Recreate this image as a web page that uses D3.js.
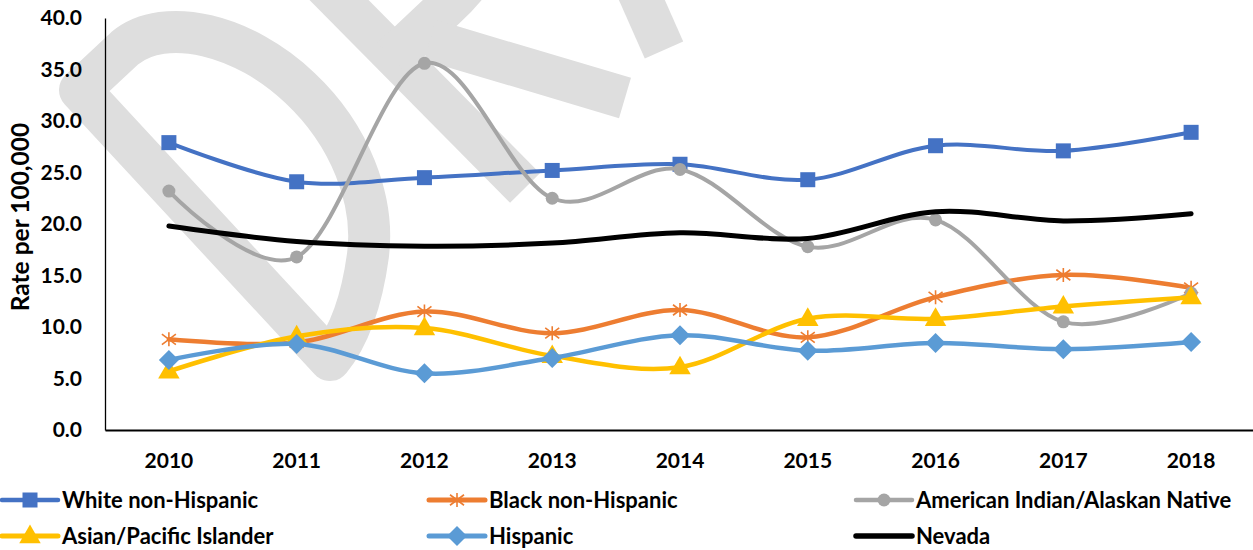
<!DOCTYPE html>
<html>
<head>
<meta charset="utf-8">
<script src="https://cdn.jsdelivr.net/npm/d3@7"></script>
<style>
  html, body { margin: 0; padding: 0; background: #ffffff; }
  svg { display: block; }
  text { font-family: Lato, "Open Sans", sans-serif; font-weight: 700; fill: #000; }
</style>
</head>
<body>
<svg id="chart" width="1253" height="550"></svg>
<script>
// Drug overdose death rate per 100,000 by race/ethnicity, Nevada, 2010-2018
const years = [2010, 2011, 2012, 2013, 2014, 2015, 2016, 2017, 2018];
const whiteNonHispanic = [27.9, 24.1, 24.5, 25.2, 25.8, 24.3, 27.6, 27.1, 28.9];
const blackNonHispanic = [8.8, 8.5, 11.5, 9.4, 11.65, 9.0, 12.9, 15.05, 13.8];
const americanIndian = [23.2, 16.8, 35.6, 22.5, 25.3, 17.8, 20.4, 10.5, 13.3];
const asianPacific = [5.7, 9.1, 9.9, 7.2, 6.1, 10.8, 10.8, 12.0, 12.9];
const hispanic = [6.8, 8.35, 5.5, 7.0, 9.2, 7.7, 8.45, 7.85, 8.55];
const nevada = [19.8, 18.3, 17.85, 18.15, 19.15, 18.6, 21.2, 20.3, 21.0];
const yTicks = [0, 5, 10, 15, 20, 25, 30, 35, 40];

const seriesList = [
  { name: "White non-Hispanic", values: whiteNonHispanic, color: "#4472C4", marker: "square", width: 4 },
  { name: "Black non-Hispanic", values: blackNonHispanic, color: "#ED7D31", marker: "star", width: 4.5 },
  { name: "American Indian/Alaskan Native", values: americanIndian, color: "#A5A5A5", marker: "circle", width: 4 },
  { name: "Asian/Pacific Islander", values: asianPacific, color: "#FFC000", marker: "triangle", width: 4.5 },
  { name: "Hispanic", values: hispanic, color: "#5B9BD5", marker: "diamond", width: 4.5 },
  { name: "Nevada", values: nevada, color: "#000000", marker: "none", width: 5 }
];

const svg = d3.select("#chart");

// Draft watermark strokes, behind the plot
const wm = svg.append("g")
  .attr("fill", "none")
  .attr("stroke", "#dedede")
  .attr("stroke-width", 42)
  .attr("stroke-linejoin", "round")
  .attr("stroke-linecap", "butt");
wm.append("path").attr("d", "M330,360 L80,90 L125,48 C165,15 245,35 300,88 C350,135 375,200 368,255 C362,300 350,335 330,360 Z");
wm.append("path").attr("d", "M250,-90 L525,188");
wm.append("path").attr("d", "M392,58 L445,8 C470,-15 490,-40 500,-90");
wm.append("path").attr("d", "M430,40 L625,98");
wm.append("path").attr("d", "M602,-90 L664,50");

const x = d3.scaleBand().domain(years).range([105, 1255]);
const y = d3.scaleLinear().domain([0, 40]).range([430, 18]);
const cx = d => x(d) + x.bandwidth() / 2;

// y axis
const yAxis = svg.append("g")
  .attr("transform", "translate(105,0)")
  .call(d3.axisLeft(y).tickValues(yTicks).tickFormat(d3.format(".1f")).tickSize(0).tickSizeOuter(0).tickPadding(23));
yAxis.select(".domain").attr("stroke", "#000").attr("stroke-width", 1.3);
yAxis.selectAll("text").style("font-size", "21px").style("font-family", "Lato, sans-serif").style("font-weight", 700);

// x axis
const xAxis = svg.append("g")
  .attr("transform", "translate(0,430)")
  .call(d3.axisBottom(x).tickSize(0).tickSizeOuter(0).tickPadding(23));
xAxis.select(".domain").attr("stroke", "#000").attr("stroke-width", 2);
xAxis.selectAll("text").style("font-size", "21px").style("font-family", "Lato, sans-serif").style("font-weight", 700);

// y axis title
svg.append("text")
  .attr("transform", "translate(29,217) rotate(-90)")
  .attr("text-anchor", "middle")
  .style("font-size", "24.5px")
  .text("Rate per 100,000");

// marker drawing
function drawMarker(g, type, color, px, py, scale) {
  const s = scale || 1;
  if (type === "square") {
    g.append("rect").attr("x", px - 7.5 * s).attr("y", py - 7.5 * s)
      .attr("width", 15 * s).attr("height", 15 * s).attr("fill", color);
  } else if (type === "circle") {
    g.append("circle").attr("cx", px).attr("cy", py).attr("r", 6.5 * s).attr("fill", color);
  } else if (type === "triangle") {
    g.append("path").attr("d", d3.symbol().type(d3.symbolTriangle).size(200 * s * s)())
      .attr("transform", `translate(${px},${py + 1})`).attr("fill", color);
  } else if (type === "diamond") {
    const r = 10 * s;
    g.append("path").attr("d", `M${px},${py - r}L${px + r},${py}L${px},${py + r}L${px - r},${py}Z`)
      .attr("fill", color);
  } else if (type === "star") {
    const r = 7 * s;
    g.append("path")
      .attr("d", `M${px},${py - r}V${py + r}M${px - r},${py - r * 0.75}L${px + r},${py + r * 0.75}M${px - r},${py + r * 0.75}L${px + r},${py - r * 0.75}`)
      .attr("stroke", color).attr("stroke-width", 1.6).attr("fill", "none");
  }
}

const line = d3.line()
  .x((d, i) => cx(years[i]))
  .y(d => y(d))
  .curve(d3.curveCardinal.tension(0));

const plot = svg.append("g");
seriesList.forEach(s => {
  const g = plot.append("g");
  g.append("path")
    .attr("d", line(s.values))
    .attr("fill", "none")
    .attr("stroke", s.color)
    .attr("stroke-width", s.width)
    .attr("stroke-linecap", "round")
    .attr("stroke-linejoin", "round");
  s.values.forEach((v, i) => drawMarker(g, s.marker, s.color, cx(years[i]), y(v), 1));
});

// legend
const legendCols = [2, 429, 856];
const legendRows = [500, 536];
const legend = svg.append("g");
seriesList.forEach((s, i) => {
  const lx = legendCols[i % 3];
  const ly = legendRows[Math.floor(i / 3)];
  const g = legend.append("g");
  g.append("line").attr("x1", lx).attr("x2", lx + 56).attr("y1", ly).attr("y2", ly)
    .attr("stroke", s.color).attr("stroke-width", s.width + 0.5).attr("stroke-linecap", "round");
  drawMarker(g, s.marker, s.color, lx + 28, ly, 1);
  g.append("text").attr("x", lx + 60).attr("y", ly).attr("dy", "0.36em")
    .style("font-size", "22px").text(s.name);
});
</script>
</body>
</html>
